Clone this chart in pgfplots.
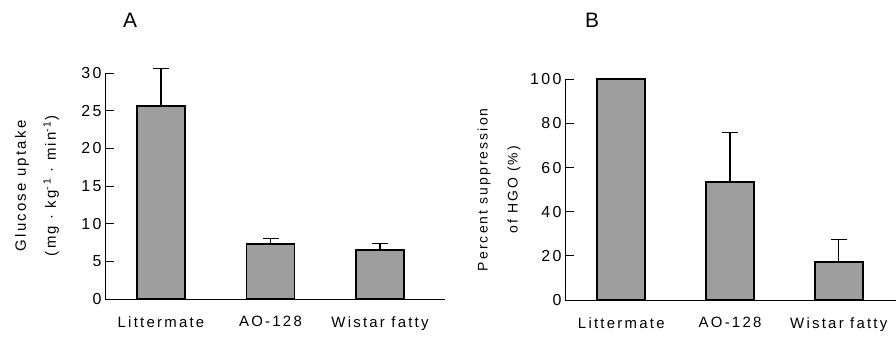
\documentclass[border=0pt]{standalone}
\usepackage{fontspec}
\setmainfont{Liberation Sans}[LetterSpace=15]
\usepackage{pgfplots}
\pgfplotsset{compat=1.18}
\begin{document}
\begin{tikzpicture}
\useasboundingbox (0bp,0bp) rectangle (896bp,338bp);
\pgfplotsset{
  panel/.style={
    scale only axis, ybar, bar width=48bp, clip=false,
    axis x line=bottom, axis y line=left,
    axis line style={line width=0.9pt, -},
    tick align=inside, major tick length=9bp,
    ytick style={line width=0.9pt, black},
    xtick style={draw=none},
    xtick=data, xticklabels={Littermate, AO-128, Wistar fatty},
    ymin=0,
    /pgf/number format/assume math mode=true,
    xticklabel style={font=\fontsize{15}{18}\selectfont, yshift=-14bp},
    yticklabel style={font=\fontsize{16}{18}\selectfont},
  },
  barstyle/.style={fill=black!38, draw=black, line width=1.8pt,
    error bars/.cd, y dir=plus, y explicit,
    error bar style={line width=1.1pt, black},
    error mark options={rotate=90, mark size=8bp, line width=1.1pt, black}},
}
\begin{axis}[panel, at={(161bp,39bp)}, anchor=origin,
  width=340bp, height=226bp, xmin=-0.511, xmax=2.594, ymax=30,
  ytick={0,5,...,30}]
\addplot[barstyle] coordinates {(0,25.6) +- (0,5.0) (1,7.3) +- (0,0.7) (2,6.5) +- (0,0.9)};
\node[rotate=90, align=center, font=\fontsize{15}{17}\selectfont] at ([xshift=-68bp]rel axis cs:0,0.5)
  {Glucose uptake\\[13bp](mg · kg\textsuperscript{-1} · min\textsuperscript{-1})};
\end{axis}
\begin{axis}[panel, at={(621.3bp,38bp)}, anchor=origin,
  width=331bp, height=220.7bp, xmin=-0.518, xmax=2.526, ymax=100,
  ytick={0,20,...,100}]
\addplot[barstyle] coordinates {(0,100) +- (0,0) (1,53.6) +- (0,22.2) (2,17.1) +- (0,10.4)};
\node[rotate=90, align=center, font=\fontsize{14}{16}\selectfont] at ([xshift=-66bp]rel axis cs:0,0.5)
  {Percent suppression\\[14bp]of HGO (\%)};
\end{axis}
\node[font=\fontsize{21}{24}\selectfont] at (130bp,318bp) {A};
\node[font=\fontsize{21}{24}\selectfont] at (592bp,318bp) {B};
\end{tikzpicture}
\end{document}
